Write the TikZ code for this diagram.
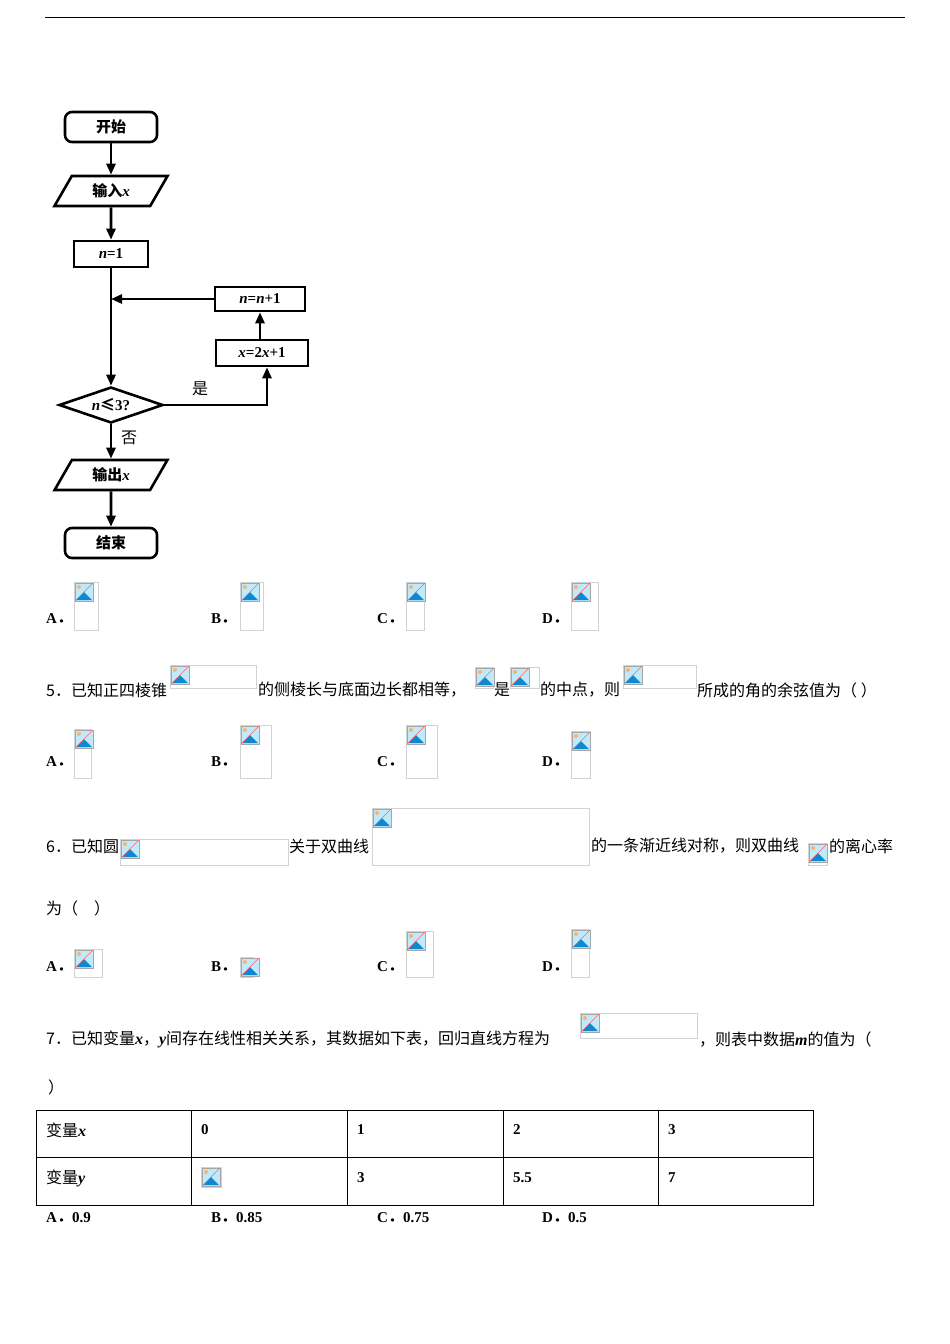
\documentclass[tikz,border=0pt]{standalone}
\usepackage{fontspec}
\setmainfont{Liberation Serif}
\newfontfamily\cjk{Noto Sans CJK SC}
\usetikzlibrary{shapes.geometric,arrows.meta}
\newcommand\mi[1]{{\rmfamily\itshape #1}}
\newcommand\dd{{\cjk ．}}
\newcommand\ph[4]{%
 \draw[gray!35,line width=0.6pt] (#1,#2) rectangle (#3,#4);
 \draw[gray!70,fill=cyan!25,line width=0.5pt] (#1+1,#2+1) rectangle (#1+19,#2+19);
 \fill[orange!60] (#1+5,#2+5) circle (2);
 \fill[cyan!70!blue] (#1+2,#2+18) -- (#1+10,#2+10) -- (#1+18,#2+18) -- cycle;
 \draw[red!60,line width=0.6pt] (#1+1,#2+19) -- (#1+19,#2+1);}
\begin{document}
\begin{tikzpicture}[x=1pt,y=-1pt,
 t/.style={anchor=west,inner sep=0,font=\cjk\fontsize{16}{18}\selectfont},
 tb/.style={anchor=west,inner sep=0,font=\bfseries\fontsize{15}{18}\selectfont},
 fc/.style={draw,line width=2.6pt,inner sep=0,font=\cjk\bfseries\fontsize{15}{16}\selectfont},
 rbox/.style={fc,rounded corners=7pt,minimum width=92pt,minimum height=30pt},
 sbox/.style={fc,minimum height=26pt},
 io/.style={fc,trapezium,trapezium left angle=60,trapezium right angle=120,minimum width=70pt,minimum height=30pt},
 ar/.style={line width=2.6pt,-{Triangle[length=11pt,width=9pt]}}]
\useasboundingbox (0,0) rectangle (950,1344);
\draw[line width=0.8pt] (45,17) -- (905,17);
% flowchart
\node[rbox] (s) at (111,127) {开始};
\node[io] (in) at (111,191) {输入\mi{x}};
\node[sbox,minimum width=74pt] (n1) at (111,254) {\mi{n}{\rmfamily =1}};
\node[sbox,minimum width=90pt,minimum height=24pt] (nn) at (260,299) {\mi{n}{\rmfamily =}\mi{n}{\rmfamily +1}};
\node[sbox,minimum width=92pt] (xx) at (262,353) {\mi{x}{\rmfamily =2}\mi{x}{\rmfamily +1}};
\node[fc,diamond,aspect=2.9,minimum width=104pt,minimum height=36pt] (d) at (111,405) {\mi{n}≤{\rmfamily 3?}};
\node[io] (out) at (111,475) {输出\mi{x}};
\node[rbox] (e) at (111,543) {结束};
\coordinate (j) at (111,299);
\coordinate (c) at (267,405);
\draw[ar] (s) -- (in);
\draw[ar] (in) -- (n1);
\draw[ar] (n1) -- (d);
\draw[ar] (nn.west) -- (j);
\draw[ar] (xx.north -| nn) -- (nn);
\draw[ar] (d.east) -- (c) -- (xx.south -| c);
\draw[ar] (d) -- (out);
\draw[ar] (out) -- (e);
\node[t] at (192,389) {是};
\node[t] at (121,438) {否};
% options row 1
\node[tb] at (46,619) {A\dd}; \ph{74}{582}{98}{630}
\node[tb] at (211,619) {B\dd}; \ph{240}{582}{263}{630}
\node[tb] at (377,619) {C\dd}; \ph{406}{582}{424}{630}
\node[tb] at (542,619) {D\dd}; \ph{571}{582}{598}{630}
% Q5
\node[t] at (46,690) {5．已知正四棱锥};
\ph{170}{665}{256}{688}
\node[t] at (258,690) {的侧棱长与底面边长都相等，};
\ph{475}{667}{493}{688}
\node[t] at (494,690) {是};
\ph{510}{667}{539}{688}
\node[t] at (540,690) {的中点，则};
\ph{623}{665}{696}{688}
\node[t] at (697,690) {所成的角的余弦值为（ ）};
\node[tb] at (46,762) {A\dd}; \ph{74}{729}{91}{778}
\node[tb] at (211,762) {B\dd}; \ph{240}{725}{271}{778}
\node[tb] at (377,762) {C\dd}; \ph{406}{725}{437}{778}
\node[tb] at (542,762) {D\dd}; \ph{571}{731}{590}{778}
% Q6
\node[t] at (46,846) {6．已知圆};
\ph{120}{839}{288}{865}
\node[t] at (289,846) {关于双曲线};
\ph{372}{808}{589}{865}
\node[t] at (591,846) {的一条渐近线对称，则双曲线};
\ph{808}{843}{827}{865}
\node[t] at (829,846) {的离心率};
\node[t] at (46,908) {为（\quad）};
\node[tb] at (46,967) {A\dd}; \ph{74}{949}{102}{977}
\node[tb] at (211,967) {B\dd}; \ph{240}{957}{253}{977}
\node[tb] at (377,967) {C\dd}; \ph{406}{931}{433}{977}
\node[tb] at (542,967) {D\dd}; \ph{571}{929}{589}{977}
% Q7
\node[t] at (46,1039) {7．已知变量{\rmfamily\bfseries\itshape x}，{\rmfamily\bfseries\itshape y}间存在线性相关关系，其数据如下表，回归直线方程为};
\ph{580}{1013}{697}{1038}
\node[t] at (699,1039) {，则表中数据{\rmfamily\bfseries\itshape m}的值为（};
\node[t] at (48,1087) {）};
% table
\draw[line width=1pt] (36,1110) rectangle (813,1205);
\draw[line width=0.8pt] (36,1157) -- (813,1157);
\foreach \xx in {191,347,503,658} \draw[line width=0.8pt] (\xx,1110) -- (\xx,1205);
\node[t] at (46,1130) {变量{\rmfamily\bfseries\itshape x}};
\node[tb] at (201,1130) {0};
\node[tb] at (357,1130) {1};
\node[tb] at (513,1130) {2};
\node[tb] at (668,1130) {3};
\node[t] at (46,1178) {变量{\rmfamily\bfseries\itshape y}};
\ph{201}{1167}{221}{1187}
\node[tb] at (357,1178) {3};
\node[tb] at (513,1178) {5.5};
\node[tb] at (668,1178) {7};
\node[tb] at (46,1218) {A\dd 0.9};
\node[tb] at (211,1218) {B\dd 0.85};
\node[tb] at (377,1218) {C\dd 0.75};
\node[tb] at (542,1218) {D\dd 0.5};
\end{tikzpicture}
\end{document}
